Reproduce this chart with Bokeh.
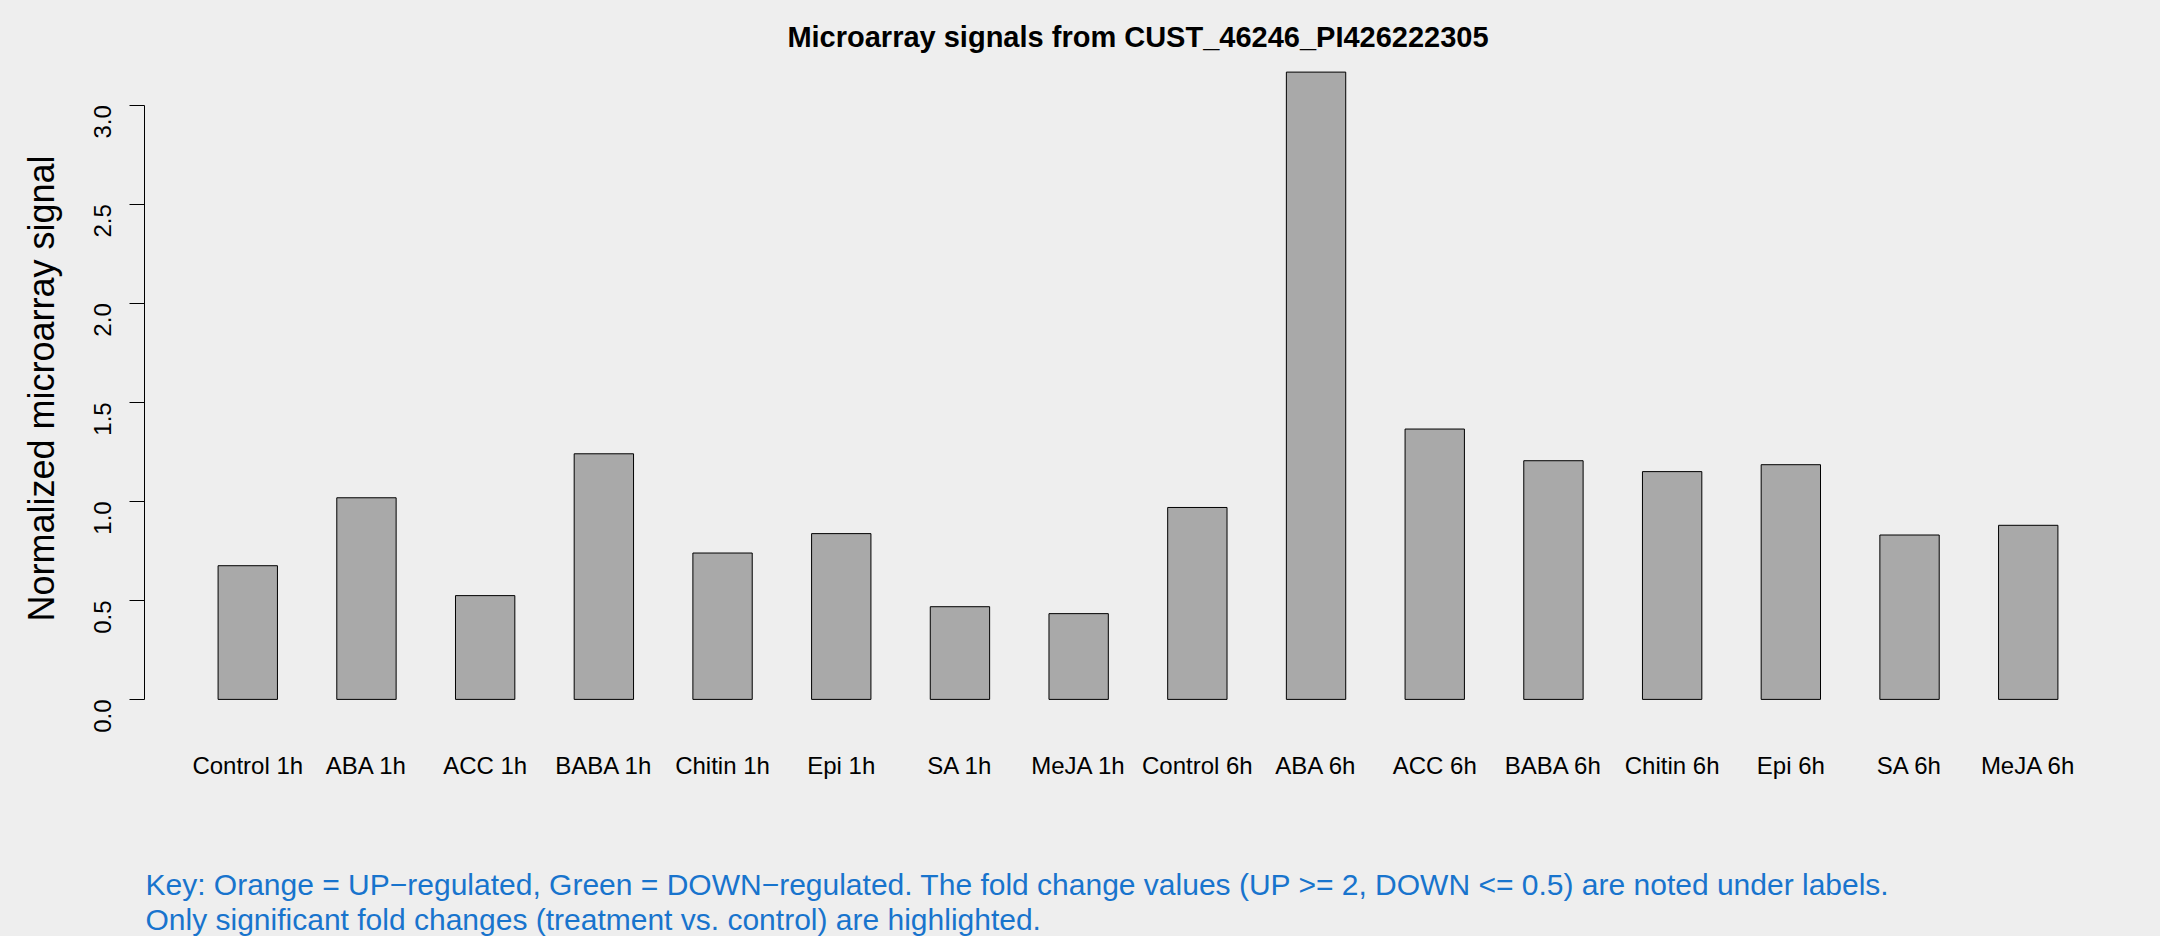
import math
from bokeh.plotting import figure
from bokeh.layouts import column
from bokeh.models import Range1d, FixedTicker, NumeralTickFormatter, Label, Title
from bokeh.embed import file_html
from bokeh.resources import INLINE

# ---- data ----
categories = ["Control 1h", "ABA 1h", "ACC 1h", "BABA 1h", "Chitin 1h", "Epi 1h",
              "SA 1h", "MeJA 1h", "Control 6h", "ABA 6h", "ACC 6h", "BABA 6h",
              "Chitin 6h", "Epi 6h", "SA 6h", "MeJA 6h"]
signal = [0.675, 1.018, 0.524, 1.240, 0.739, 0.837, 0.468, 0.433,
          0.969, 3.167, 1.365, 1.205, 1.150, 1.185, 0.830, 0.879]
y_ticks = [0.0, 0.5, 1.0, 1.5, 2.0, 2.5, 3.0]

title_text = "Microarray signals from CUST_46246_PI426222305"
ylabel_text = "Normalized microarray signal"
key_line1 = ("Key: Orange = UP\u2212regulated, Green = DOWN\u2212regulated. The fold change values "
             "(UP >= 2, DOWN <= 0.5) are noted under labels.")
key_line2 = "Only significant fold changes (treatment vs. control) are highlighted."

FONT = "Liberation Sans"
BG = "#EEEEEE"

LEFT, RIGHT, FW = 144, 29, 1987
TOP, FH, BOTTOM = 52, 672, 114

xs = list(range(len(categories)))

p = figure(frame_width=FW, frame_height=FH,
           x_range=Range1d(-0.87, len(categories) - 1 + 0.87),
           y_range=Range1d(-0.1267, 3.266),
           output_backend="svg", toolbar_location=None,
           min_border_left=LEFT, min_border_right=RIGHT,
           min_border_top=TOP, min_border_bottom=BOTTOM)

p.background_fill_color = BG
p.border_fill_color = BG
p.outline_line_color = None
p.xgrid.grid_line_color = None
p.ygrid.grid_line_color = None

p.title = Title(text=title_text, align="center", standoff=0,
                text_font=FONT, text_font_size="29px", text_font_style="bold",
                text_color="black")

p.vbar(x=xs, top=signal, bottom=0, width=0.5,
       fill_color="#A9A9A9", line_color="black", line_width=1)

# y axis
ya = p.yaxis[0]
ya.bounds = (0, 3)
ya.ticker = FixedTicker(ticks=y_ticks)
ya.formatter = NumeralTickFormatter(format="0.0")
ya.major_label_orientation = math.pi / 2
ya.major_tick_out = 15
ya.major_tick_in = 0
ya.minor_tick_out = 0
ya.minor_tick_in = 0
ya.axis_line_color = "black"
ya.major_tick_line_color = "black"
ya.major_label_text_font = FONT
ya.major_label_text_font_size = "24px"
ya.major_label_text_color = "black"
ya.major_label_standoff = 27
ya.axis_label = ylabel_text
ya.axis_label_text_font = FONT
ya.axis_label_text_font_size = "36px"
ya.axis_label_text_font_style = "normal"
ya.axis_label_text_color = "black"
ya.axis_label_standoff = 21

# x axis
xa = p.xaxis[0]
xa.ticker = FixedTicker(ticks=xs)
xa.major_label_overrides = {i: c for i, c in zip(xs, categories)}
xa.axis_line_color = None
xa.major_tick_line_color = None
xa.minor_tick_line_color = None
xa.major_label_text_font = FONT
xa.major_label_text_font_size = "24px"
xa.major_label_text_color = "black"
xa.major_label_standoff = 21

# key panel below the chart (same frame geometry; x in page pixels)
KH = 98
k = figure(frame_width=FW, frame_height=KH,
           x_range=Range1d(LEFT, LEFT + FW), y_range=Range1d(0, KH),
           output_backend="svg", toolbar_location=None,
           x_axis_location=None, y_axis_location=None,
           min_border_left=LEFT, min_border_right=RIGHT,
           min_border_top=0, min_border_bottom=0)
k.background_fill_color = BG
k.border_fill_color = BG
k.outline_line_color = None
k.xgrid.grid_line_color = None
k.ygrid.grid_line_color = None
k.add_layout(Label(x=145, y=52, text=key_line1,
                   text_align="left", text_baseline="alphabetic",
                   text_font=FONT, text_font_size="30px", text_color="#1874CD"))
k.add_layout(Label(x=145, y=17, text=key_line2,
                   text_align="left", text_baseline="alphabetic",
                   text_font=FONT, text_font_size="30px", text_color="#1874CD"))

layout = column(p, k, spacing=0)
layout.styles = {"background-color": BG}

open("out.html", "w").write(file_html(layout, INLINE))
